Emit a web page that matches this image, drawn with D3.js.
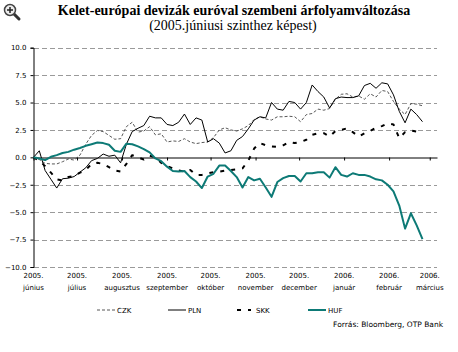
<!doctype html>
<html>

<head>
    <meta charset="utf-8">
    <title>Kelet-európai devizák</title>
    <style>
    body { margin: 0; background: #fff; }
    text { font-family: "DejaVu Sans", sans-serif; }
    .title { font-family: "Liberation Serif", serif; }
    .grid line { stroke: #9a9a9a; stroke-dasharray: 5, 3; }
    </style>
    <script src="https://d3js.org/d3.v7.min.js"></script>
</head>

<body>
    <svg width="458" height="352"></svg>
    <script>
    // sample dates, every 4 days
    var dates = ["2005-06-01", "2005-06-05", "2005-06-09", "2005-06-13", "2005-06-17", "2005-06-21", "2005-06-25", "2005-06-29",
        "2005-07-03", "2005-07-07", "2005-07-11", "2005-07-15", "2005-07-19", "2005-07-23", "2005-07-27", "2005-07-31",
        "2005-08-04", "2005-08-08", "2005-08-12", "2005-08-16", "2005-08-20", "2005-08-24", "2005-08-28", "2005-09-01",
        "2005-09-05", "2005-09-09", "2005-09-13", "2005-09-17", "2005-09-21", "2005-09-25", "2005-09-29", "2005-10-03",
        "2005-10-07", "2005-10-11", "2005-10-15", "2005-10-19", "2005-10-23", "2005-10-27", "2005-10-31", "2005-11-04",
        "2005-11-08", "2005-11-12", "2005-11-16", "2005-11-20", "2005-11-24", "2005-11-28", "2005-12-02", "2005-12-06",
        "2005-12-10", "2005-12-14", "2005-12-18", "2005-12-22", "2005-12-26", "2005-12-30", "2006-01-03", "2006-01-07",
        "2006-01-11", "2006-01-15", "2006-01-19", "2006-01-23", "2006-01-27", "2006-01-31", "2006-02-04", "2006-02-08",
        "2006-02-12", "2006-02-16", "2006-02-20", "2006-02-24"];

    var czk = [0.0, -0.2, -0.55, -0.6, -0.6, -0.4, -0.15, -0.25, 0.2, 1.2, 2.0, 2.45, 2.35, 2.0, 1.65, 1.7,
        2.8, 3.2, 2.3, 2.4, 2.8, 2.05, 2.15, 1.4, 1.5, 1.45, 1.7, 1.4, 1.25, 1.35, 1.4, 1.8,
        2.5, 2.7, 2.5, 2.4, 2.6, 2.9, 3.45, 3.7, 3.5, 3.4, 3.7, 3.7, 3.75, 3.7, 3.25, 3.9,
        4.0, 4.4, 4.3, 4.45, 5.3, 5.75, 5.8, 5.5, 5.6, 5.3, 5.8, 5.5, 6.1, 6.0, 5.1, 4.4,
        3.9, 4.9, 4.85, 4.7];

    var pln = [0.0, 0.6, -1.2, -2.0, -2.8, -1.95, -1.9, -1.75, -1.35, -0.95, -0.3, -0.1, 0.3, 0.1, 0.2, -0.5,
        1.2, 2.35, 2.65, 2.9, 3.75, 3.6, 3.6, 3.0, 2.9, 3.2, 3.95, 3.0, 3.6, 3.4, 1.4, 1.7,
        1.3, 0.4, 0.6, 1.55, 1.9, 2.6, 3.4, 3.7, 3.6, 5.0, 4.4, 4.3, 5.1, 5.0, 4.4, 5.0,
        6.6, 6.0, 5.5, 4.5, 5.35, 5.5, 5.45, 5.45, 5.6, 6.55, 6.75, 6.3, 6.8, 6.7, 5.7, 4.2,
        3.15, 4.4, 3.9, 3.25];

    var skk = [0.0, -0.3, -0.8, -1.4, -2.0, -2.1, -1.8, -1.7, -1.4, -1.15, -0.6, -0.5, -0.6, -0.9, -1.2, -1.3,
        -0.6, 0.2, 0.0, -0.2, 0.15, 0.0, -0.5, -0.8, -1.0, -1.2, -1.3, -1.15, -1.6, -1.6, -1.45, -1.35,
        -1.3, -1.2, -1.15, -1.1, -1.0, -0.3, 0.8, 1.3, 1.1, 1.0, 0.95, 1.1, 1.4, 1.3, 1.4, 1.6,
        2.05, 2.2, 2.2, 1.9, 2.4, 2.5, 2.65, 2.3, 1.9, 2.2, 2.4, 2.7, 2.85, 3.1, 3.0, 1.75,
        2.3, 2.45, 2.35, 2.5];

    var huf = [0.0, -0.1, -0.25, 0.05, 0.2, 0.4, 0.5, 0.7, 0.85, 1.05, 1.2, 1.35, 1.3, 1.15, 0.6, 0.5,
        1.25, 1.2, 1.0, 0.75, 0.45, -0.1, -0.35, -0.85, -1.25, -1.3, -1.25, -1.8, -2.2, -2.8, -1.75, -1.5,
        -0.75, -0.75, -1.25, -1.8, -2.75, -1.8, -2.1, -1.95, -2.75, -3.6, -2.25, -1.9, -1.7, -1.7, -2.2, -1.45,
        -1.45, -1.35, -1.35, -1.85, -0.9, -1.6, -1.75, -1.45, -1.6, -1.6, -1.75, -2.0, -2.1, -2.5, -3.1, -4.4,
        -6.5, -5.1, -6.2, -7.45];

    var yTicks = [-10, -7.5, -5, -2.5, 0, 2.5, 5, 7.5, 10];
    var monthDates = ["2005-06-01", "2005-07-01", "2005-08-01", "2005-09-01", "2005-10-01",
        "2005-11-01", "2005-12-01", "2006-01-01", "2006-02-01", "2006-03-01"];
    var monthYears = ["2005.", "2005.", "2005.", "2005.", "2005.", "2005.", "2005.", "2006.", "2006.", "2006."];
    var monthNames = ["június", "július", "augusztus", "szeptember", "október",
        "november", "december", "január", "február", "március"];

    var series = [
        { name: "CZK", values: czk, color: "#444", width: 0.9, dash: "3,2" },
        { name: "PLN", values: pln, color: "#000", width: 1, dash: null },
        { name: "SKK", values: skk, color: "#000", width: 2, dash: "4,7" },
        { name: "HUF", values: huf, color: "#0d7a76", width: 2, dash: null }
    ];

    var parse = d3.timeParse("%Y-%m-%d");
    var svg = d3.select("svg");

    var x = d3.scaleTime()
        .domain([parse("2005-06-01"), parse("2006-03-06")])
        .range([33.5, 437]);

    var y = d3.scaleLinear()
        .domain([-10, 10])
        .range([267, 47.7]);

    // magnifier icon
    var icon = svg.append("g").attr("transform", "translate(10,10)");
    icon.append("line").attr("x1", 4).attr("y1", 4).attr("x2", 9).attr("y2", 9)
        .attr("stroke", "#333").attr("stroke-width", 3).attr("stroke-linecap", "round");
    icon.append("circle").attr("r", 5.5).attr("fill", "#eee").attr("stroke", "#444").attr("stroke-width", 1.5);
    icon.append("path").attr("d", "M-3,0H3M0,-3V3").attr("stroke", "#222").attr("stroke-width", 1.5);

    // titles
    svg.append("text").attr("class", "title")
        .attr("x", 234).attr("y", 15).attr("text-anchor", "middle")
        .attr("font-size", 14).attr("font-weight", "bold")
        .text("Kelet-európai devizák euróval szembeni árfolyamváltozása");
    svg.append("text").attr("class", "title")
        .attr("x", 233).attr("y", 30).attr("text-anchor", "middle")
        .attr("font-size", 14)
        .text("(2005.júniusi szinthez képest)");

    // grid
    svg.append("g")
        .attr("class", "grid")
        .selectAll("line")
        .data(yTicks.filter(function(d) { return d !== 0; }))
        .enter().append("line")
        .attr("x1", 34).attr("x2", 437)
        .attr("y1", function(d) { return Math.round(y(d)) + 0.5; })
        .attr("y2", function(d) { return Math.round(y(d)) + 0.5; });

    // y axis
    var yAxis = svg.append("g")
        .attr("transform", "translate(33.5,0)")
        .call(d3.axisLeft(y).tickValues(yTicks).tickSize(3).tickFormat(d3.format(".1f")));
    yAxis.select(".domain").attr("stroke", "#000");
    yAxis.selectAll("text").attr("font-size", 7).attr("fill", "#000").attr("dx", -1);

    // zero axis with month ticks
    var xAxis = svg.append("g")
        .attr("transform", "translate(0," + (Math.round(y(0)) + 0.5) + ")")
        .call(d3.axisBottom(x).tickValues(monthDates.map(parse)).tickSize(3).tickSizeOuter(0).tickFormat(""));
    xAxis.select(".domain").attr("stroke", "#000");

    // month labels
    var lab = svg.append("g").selectAll("text")
        .data(monthDates)
        .enter().append("text")
        .attr("text-anchor", "middle")
        .attr("font-size", 7)
        .attr("transform", function(d) { return "translate(" + x(parse(d)) + ",0)"; });
    lab.append("tspan").attr("x", 0).attr("y", 278).text(function(d, i) { return monthYears[i]; });
    lab.append("tspan").attr("x", 0).attr("y", 290).text(function(d, i) { return monthNames[i]; });

    // lines
    var line = d3.line()
        .x(function(d, i) { return x(parse(dates[i])); })
        .y(function(d) { return y(d); });

    svg.append("g").selectAll("path")
        .data(series)
        .enter().append("path")
        .attr("fill", "none")
        .attr("stroke", function(d) { return d.color; })
        .attr("stroke-width", function(d) { return d.width; })
        .attr("stroke-dasharray", function(d) { return d.dash; })
        .attr("stroke-linejoin", "round")
        .attr("d", function(d) { return line(d.values); });

    // legend
    var legX = [97, 168, 237, 308];
    var leg = svg.append("g").selectAll("g")
        .data(series)
        .enter().append("g")
        .attr("transform", function(d, i) { return "translate(" + legX[i] + ",310)"; });
    leg.append("line")
        .attr("x1", 0).attr("x2", function(d) { return d.name === "SKK" ? 14 : 18; })
        .attr("stroke", function(d) { return d.color; })
        .attr("stroke-width", function(d) { return d.width; })
        .attr("stroke-dasharray", function(d) { return d.dash; });
    leg.append("text")
        .attr("x", function(d) { return d.name === "SKK" ? 19 : 20; })
        .attr("y", 2.5)
        .attr("font-size", 7)
        .text(function(d) { return d.name; });

    svg.append("text")
        .attr("x", 443).attr("y", 327)
        .attr("text-anchor", "end")
        .attr("font-size", 7.5)
        .text("Forrás: Bloomberg, OTP Bank");
    </script>
</body>

</html>
